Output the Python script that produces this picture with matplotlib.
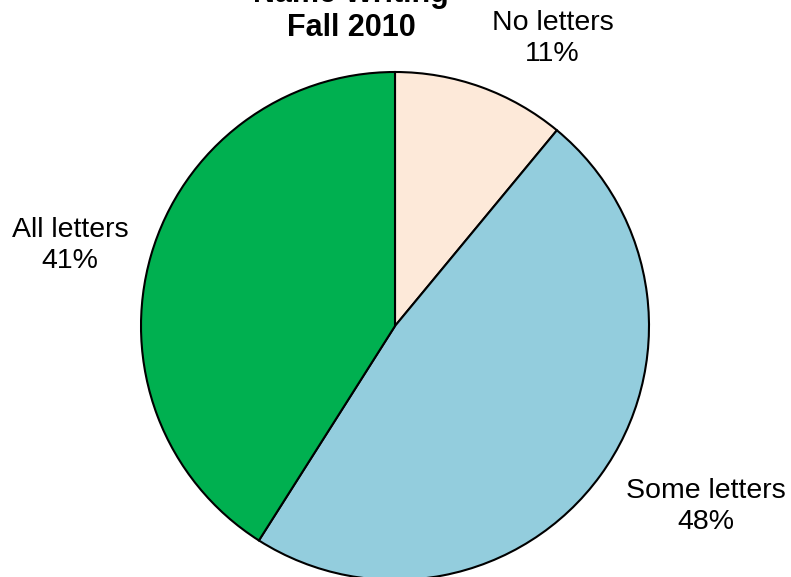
import matplotlib.pyplot as plt

# Name writing results, fall 2010
categories = ["No letters", "Some letters", "All letters"]
percents = [11, 48, 41]
colors = ["#FDE9D9", "#93CDDD", "#00B050"]

plt.rcParams['font.family'] = ['Liberation Sans', 'DejaVu Sans']

fig = plt.figure(figsize=(7.91, 5.77), dpi=100)
ax = fig.add_axes([141 / 791, -3 / 577, 508 / 791, 508 / 577])

labels = [f"{c}\n{p}%" for c, p in zip(categories, percents)]
wedges, texts = ax.pie(percents, labels=labels, colors=colors, startangle=90,
                       counterclock=False, labeldistance=1.15,
                       wedgeprops=dict(edgecolor="black", linewidth=1.5),
                       textprops=dict(fontsize=20.5, multialignment="center",
                                      linespacing=1.25))

# nudge labels to where they sit in the original
label_pos = [(0.62, 1.13), (1.224, -0.71), (-1.28, 0.315)]
for t, pos in zip(texts, label_pos):
    t.set_position(pos)
    t.set_ha("center")
    t.set_va("center")

ax.set_xlim(-1, 1)
ax.set_ylim(-1, 1)
ax.set_aspect("equal")
ax.axis("off")

fig.text(351 / 791, 1 - 43 / 577, "Name Writing\nFall 2010", ha="center", va="bottom",
         fontsize=22, fontweight="bold", linespacing=1.19)

fig.savefig("out.png", dpi=100)
